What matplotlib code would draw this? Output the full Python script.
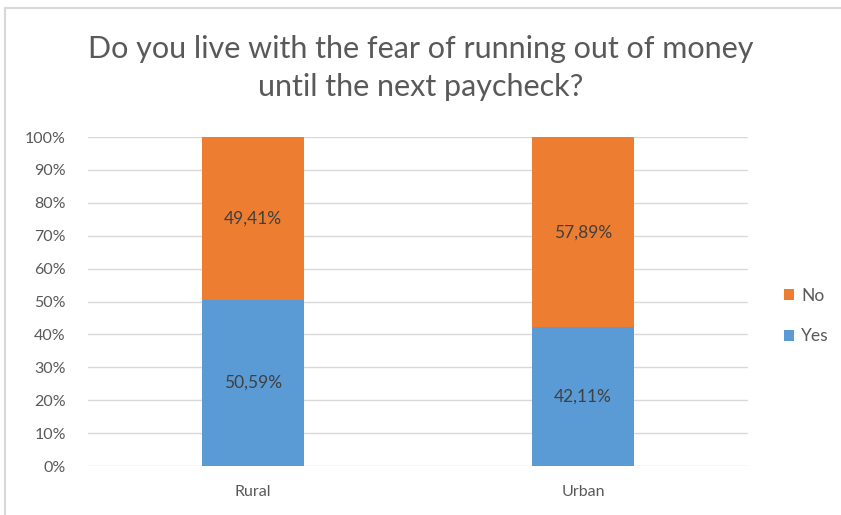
import matplotlib.pyplot as plt
from matplotlib.lines import Line2D
from matplotlib.ticker import PercentFormatter

categories = ["Rural", "Urban"]
yes_values = [50.59, 42.11]
no_values = [49.41, 57.89]
series_names = ["Yes", "No"]

BLUE = "#5B9BD5"
ORANGE = "#ED7D31"
TEXT = "#595959"
GRID = "#D9D9D9"

plt.rcParams["font.family"] = ["Lato", "DejaVu Sans"]

fig = plt.figure(figsize=(8.41, 5.15), dpi=100)
ax = fig.add_axes([88 / 841, 1 - 466 / 515, 660 / 841, 329 / 515])

x = list(range(len(categories)))
width = 0.31
b_yes = ax.bar(x, yes_values, width, color=BLUE, label=series_names[0], zorder=2)
b_no = ax.bar(x, no_values, width, bottom=yes_values, color=ORANGE,
              label=series_names[1], zorder=2)

for bars, vals, base in [(b_yes, yes_values, [0, 0]), (b_no, no_values, yes_values)]:
    for rect, v, b in zip(bars, vals, base):
        ax.text(rect.get_x() + rect.get_width() / 2, b + v / 2,
                f"{v:.2f}%".replace(".", ","), ha="center", va="center",
                fontsize=12.5, color="#404040", zorder=3)

ax.set_xlim(-0.5, 1.5)
ax.set_ylim(0, 100)
ax.set_yticks(range(0, 101, 10))
ax.yaxis.set_major_formatter(PercentFormatter(decimals=0))
ax.set_xticks(x)
ax.set_xticklabels(categories)
ax.tick_params(axis="both", length=0, labelsize=11.5, colors=TEXT)
ax.tick_params(axis="y", pad=16)
ax.tick_params(axis="x", pad=14)
ax.grid(axis="y", color=GRID, linewidth=1, zorder=0)
for s in ax.spines.values():
    s.set_visible(False)

handles, labels = ax.get_legend_handles_labels()
fig.legend(handles[::-1], labels[::-1], loc="center left",
           bbox_to_anchor=(784 / 841, 1 - 316 / 515), frameon=False,
           borderaxespad=0, borderpad=0,
           fontsize=12.5, labelcolor=TEXT, handlelength=0.6, handleheight=0.6,
           handletextpad=0.4, labelspacing=1.4)

fig.text(0.5, 1 - 68 / 515,
         "Do you live with the fear of running out of money\nuntil the next paycheck?",
         ha="center", va="center", fontsize=22, color=TEXT, linespacing=1.45)

# chart frame: only left and top edges are inside the picture
fig.add_artist(Line2D([5 / 841, 5 / 841], [0, 1 - 8 / 515], transform=fig.transFigure,
                      color=GRID, linewidth=1.5))
fig.add_artist(Line2D([5 / 841, 1], [1 - 8 / 515, 1 - 8 / 515], transform=fig.transFigure,
                      color=GRID, linewidth=1.5))

fig.savefig("out.png", dpi=100)
